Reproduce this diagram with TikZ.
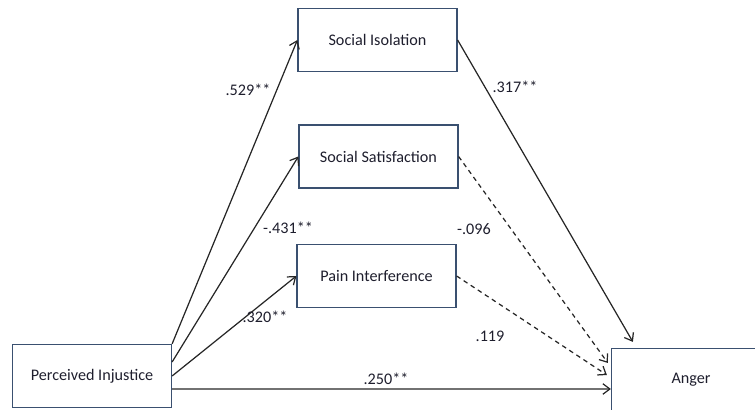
\documentclass[tikz,border=0pt]{standalone}
\usepackage{fontspec}
\setmainfont{Carlito}
\usetikzlibrary{arrows.meta}
\definecolor{boxline}{RGB}{58,80,112}
\definecolor{ink}{RGB}{30,30,45}

\begin{document}
\begin{tikzpicture}[
  font=\fontsize{9.2}{11}\selectfont,
  var/.style={draw=boxline, line width=0.7pt, minimum width=3.18cm, minimum height=1.26cm, text=ink},
  path/.style={-{Straight Barb[length=4pt,width=6pt]}, line width=0.7pt, draw=black!85},
  nonsig/.style={path, dash pattern=on 2.6pt off 2.2pt},
  coef/.style={text=ink}
]
\clip (0,0) rectangle (15.1,8.2);
% variables
\node[var] (inj) at (1.84,0.68) {Perceived Injustice};
\node[var] (iso) at (7.55,7.4) {Social Isolation};
\node[var] (sat) at (7.57,5.07) {Social Satisfaction};
\node[var] (pain) at (7.53,2.68) {Pain Interference};
\node[var] (ang) at (13.82,0.6) {Anger};
% paths
\draw[path] (inj.north east) -- (iso.west);
\draw[path] ([yshift=0.28cm]inj.east) -- (sat.west);
\draw[path] (inj.east) -- (pain.west);
\draw[path] ([yshift=-0.26cm]inj.east) -- ([yshift=-0.18cm]ang.west);
\draw[path] (iso.east) -- ([xshift=0.44cm,yshift=0.12cm]ang.north west);
\draw[nonsig] (sat.east) -- ([xshift=-0.06cm,yshift=0.34cm]ang.west);
\draw[nonsig] (pain.east) -- ([xshift=-0.08cm,yshift=0.1cm]ang.west);
% coefficients
\node[coef] (c1) at (4.96,6.4) {.529**};
\node[coef] (c2) at (10.3,6.46) {.317**};
\node[coef] (c3) at (5.76,3.64) {-.431**};
\node[coef] (c4) at (9.48,3.62) {-.096};
\node[coef] (c5) at (5.3,1.86) {.320**};
\node[coef] (c6) at (9.8,1.48) {.119};
\node[coef] (c7) at (7.72,0.62) {.250**};
\end{tikzpicture}
\end{document}
